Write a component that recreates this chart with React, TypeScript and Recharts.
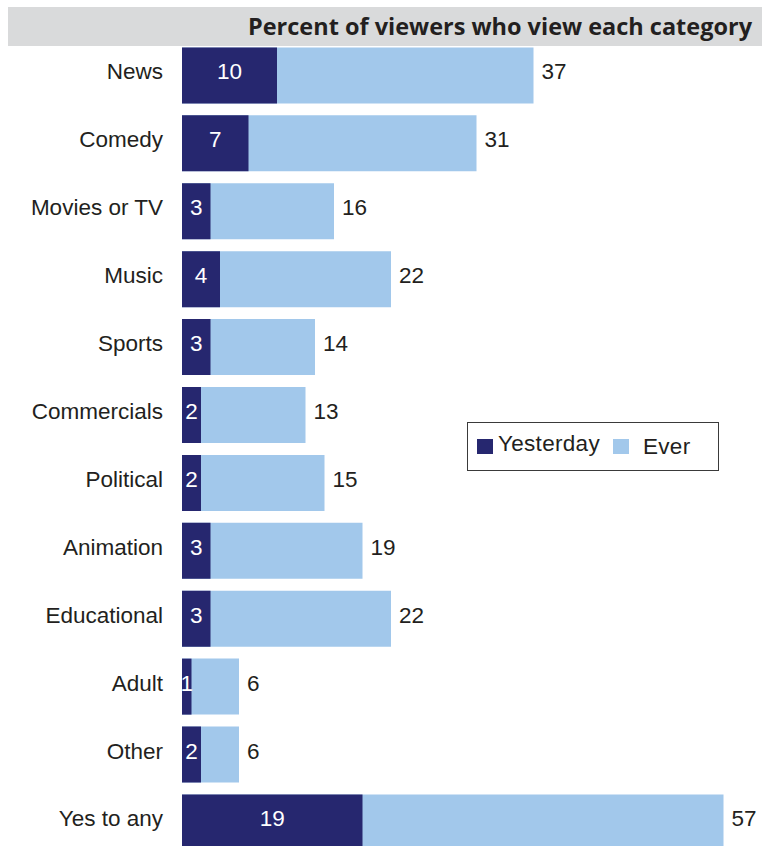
import React from "react";
import { BarChart, Bar, XAxis, YAxis, Legend, LabelList } from "recharts";

const categories = [
  "News", "Comedy", "Movies or TV", "Music", "Sports", "Commercials",
  "Political", "Animation", "Educational", "Adult", "Other", "Yes to any",
];
const yesterdayValues = [10, 7, 3, 4, 3, 2, 2, 3, 3, 1, 2, 19];
const everValues = [37, 31, 16, 22, 14, 13, 15, 19, 22, 6, 6, 57];
const seriesNames = ["Yesterday", "Ever"];
const headerTitle = "Percent of viewers who view each category";

const data = categories.map((c, i) => ({
  category: c,
  yesterday: yesterdayValues[i],
  ever: everValues[i],
}));

const DARK = "#26276F";
const LIGHT = "#A2C8EB";
const TEXT = "#231F20";
const FONT = "'Liberation Sans', Arial, sans-serif";
const FS = 22.5;
const DY = 4;

const CategoryTick = (props: any) => {
  const { x, y, payload } = props;
  return (
    <text x={x} y={y} dy={DY} textAnchor="end" fill={TEXT}
      fontFamily={FONT} fontSize={FS}>
      {payload.value}
    </text>
  );
};

const InsideLabel = (props: any) => {
  const { x, y, width, height, value } = props;
  return (
    <text x={x + width / 2} y={y + height / 2} dy={DY} textAnchor="middle"
      fill="#FFFFFF" fontFamily={FONT} fontSize={FS}>
      {value}
    </text>
  );
};

const OutsideLabel = (props: any) => {
  const { x, y, width, height, value } = props;
  return (
    <text x={x + width + 8} y={y + height / 2} dy={DY} textAnchor="start"
      fill={TEXT} fontFamily={FONT} fontSize={FS}>
      {value}
    </text>
  );
};

const LegendBox = () => (
  <div style={{
    position: "relative", width: 252, height: 49, boxSizing: "border-box",
    border: "1px solid #3A3A3A", background: "#fff", fontFamily: FONT,
    fontSize: FS, color: TEXT, letterSpacing: 0.3,
  }}>
    <div style={{ position: "absolute", left: 9, top: 16, width: 16, height: 15, background: DARK }} />
    <div style={{ position: "absolute", left: 30, top: 8, lineHeight: "26px" }}>{seriesNames[0]}</div>
    <div style={{ position: "absolute", left: 145, top: 16, width: 16, height: 15, background: LIGHT }} />
    <div style={{ position: "absolute", left: 175, top: 11, lineHeight: "26px" }}>{seriesNames[1]}</div>
  </div>
);

export default function App() {
  return (
    <div style={{ position: "absolute", left: 0, top: 0, width: 770, height: 846, overflow: "hidden", background: "#fff" }}>
      <div style={{ position: "absolute", left: 8, top: 7, width: 754, height: 39, background: "#D9DADB" }}>
        <svg width={754} height={39} style={{ display: "block" }}>
          <text x={744} y={27.5} textAnchor="end" fill={TEXT}
            fontFamily="'Open Sans', 'Liberation Sans', sans-serif" fontWeight={700} fontSize={23}
            textLength={504} lengthAdjust="spacingAndGlyphs">
            {headerTitle}
          </text>
        </svg>
      </div>
      <div style={{ position: "absolute", left: 0, top: 0 }}>
        <BarChart
          width={770}
          height={870}
          data={data}
          layout="vertical"
          margin={{ top: 41.5, right: 18, bottom: 13.6, left: 0 }}
          barCategoryGap="8.76%"
        >
          <XAxis type="number" domain={[0, 60]} hide />
          <YAxis yAxisId="ever" type="category" dataKey="category" width={182}
            axisLine={false} tickLine={false} tickSize={0} tickMargin={19}
            tick={<CategoryTick />} interval={0} />
          <YAxis yAxisId="yes" type="category" dataKey="category" hide />
          <Legend
            layout="horizontal"
            verticalAlign="middle"
            align="center"
            wrapperStyle={{ left: 467, top: 422, width: 252, height: 49 }}
            content={<LegendBox />}
          />
          <Bar yAxisId="ever" dataKey="ever" name={seriesNames[1]} fill={LIGHT} isAnimationActive={false}>
            <LabelList dataKey="ever" content={<OutsideLabel />} />
          </Bar>
          <Bar yAxisId="yes" dataKey="yesterday" name={seriesNames[0]} fill={DARK} isAnimationActive={false}>
            <LabelList dataKey="yesterday" content={<InsideLabel />} />
          </Bar>
        </BarChart>
      </div>
    </div>
  );
}
